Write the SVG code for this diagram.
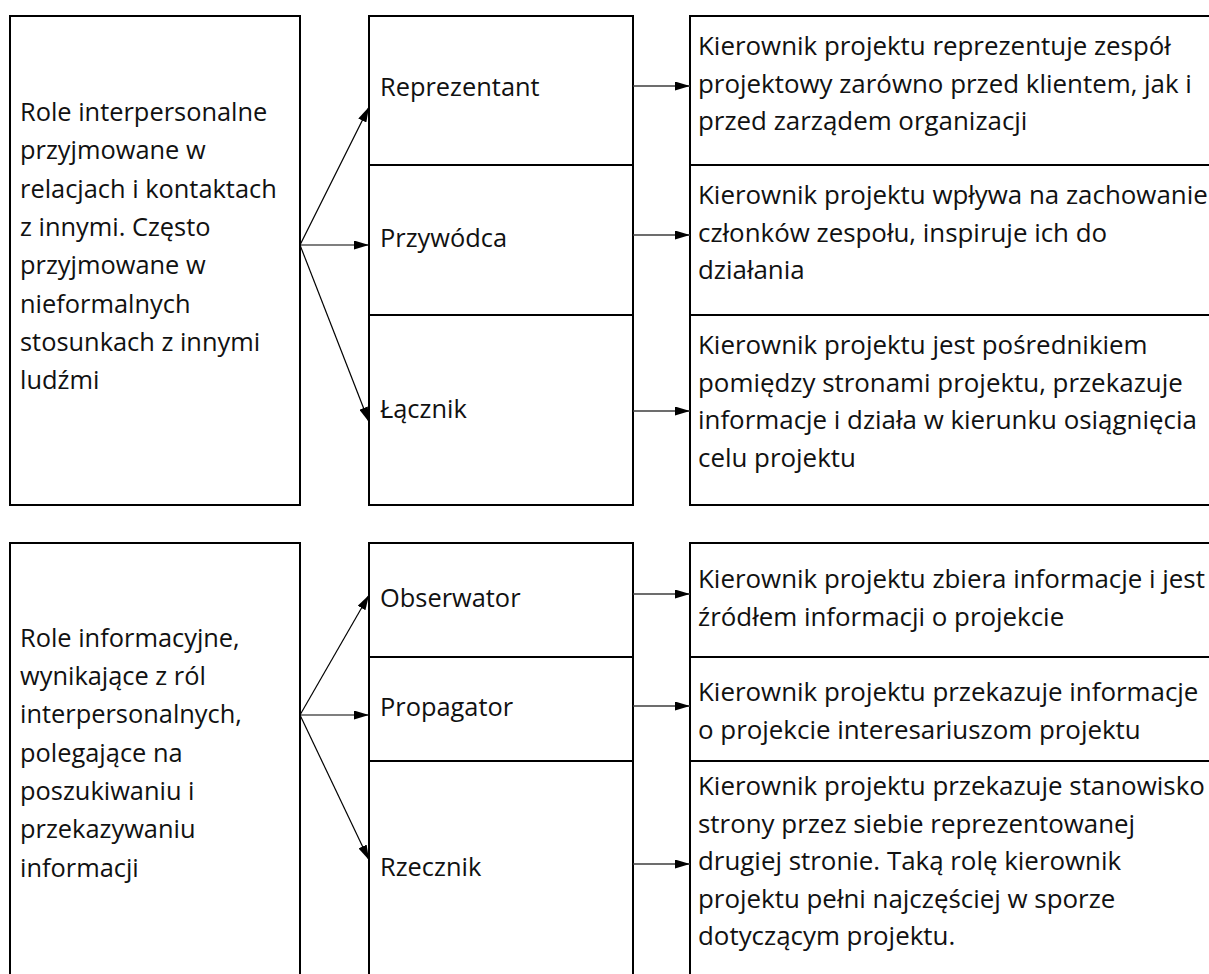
<svg xmlns="http://www.w3.org/2000/svg" width="1209" height="974" viewBox="0 0 1209 974">
  <style>
    .box { fill: #ffffff; stroke: #000000; stroke-width: 2; }
    .txt { font-family: "Open Sans", "Noto Sans", "Liberation Sans", sans-serif; font-size: 25.4px; fill: #111111; }
    .desc { font-size: 25.9px; }
    .fan { stroke: #000000; stroke-width: 1.2; fill: none; }
    .out { stroke: #3c3c3c; stroke-width: 1.5; fill: none; }
  </style>
  <defs>
    <marker id="head" markerUnits="userSpaceOnUse" markerWidth="15" markerHeight="9" refX="15" refY="4.5" orient="auto">
      <path d="M0,0 L15,4.5 L0,9 z" fill="#000000"/>
    </marker>
  </defs>

  <rect x="0" y="0" width="1209" height="974" fill="#ffffff"/>

  <!-- Interpersonal roles -->
  <g id="interpersonal">
    <rect class="box" x="10" y="16" width="290" height="489"/>
    <text class="txt" x="20">
      <tspan x="20" y="121">Role interpersonalne</tspan>
      <tspan x="20" y="159.3">przyjmowane w</tspan>
      <tspan x="20" y="197.6">relacjach i kontaktach</tspan>
      <tspan x="20" y="235.9">z innymi. Często</tspan>
      <tspan x="20" y="274.2">przyjmowane w</tspan>
      <tspan x="20" y="312.5">nieformalnych</tspan>
      <tspan x="20" y="350.8">stosunkach z innymi</tspan>
      <tspan x="20" y="389.1">ludźmi</tspan>
    </text>
  </g>

  <g id="reprezentant">
    <rect class="box" x="369" y="16" width="264" height="149"/>
    <text class="txt" x="380" y="96">Reprezentant</text>
  </g>
  <g id="przywodca">
    <rect class="box" x="369" y="165" width="264" height="150"/>
    <text class="txt" x="380" y="246.5">Przywódca</text>
  </g>
  <g id="lacznik">
    <rect class="box" x="369" y="315" width="264" height="190"/>
    <text class="txt" x="380" y="418">Łącznik</text>
  </g>

  <g id="reprezentant-desc">
    <rect class="box" x="690" y="16" width="530" height="149"/>
    <text class="txt desc">
      <tspan x="698" y="55">Kierownik projektu reprezentuje zespół</tspan>
      <tspan x="698" y="92.7">projektowy zarówno przed klientem, jak i</tspan>
      <tspan x="698" y="130.4">przed zarządem organizacji</tspan>
    </text>
  </g>
  <g id="przywodca-desc">
    <rect class="box" x="690" y="165" width="530" height="150"/>
    <text class="txt desc">
      <tspan x="698" y="204">Kierownik projektu wpływa na zachowanie</tspan>
      <tspan x="698" y="241.7">członków zespołu, inspiruje ich do</tspan>
      <tspan x="698" y="279.4">działania</tspan>
    </text>
  </g>
  <g id="lacznik-desc">
    <rect class="box" x="690" y="315" width="530" height="190"/>
    <text class="txt desc">
      <tspan x="698" y="354">Kierownik projektu jest pośrednikiem</tspan>
      <tspan x="698" y="391.7">pomiędzy stronami projektu, przekazuje</tspan>
      <tspan x="698" y="429.4">informacje i działa w kierunku osiągnięcia</tspan>
      <tspan x="698" y="467">celu projektu</tspan>
    </text>
  </g>

  <!-- Informational roles -->
  <g id="informational">
    <rect class="box" x="10" y="543" width="290" height="445"/>
    <text class="txt">
      <tspan x="20" y="646.7">Role informacyjne,</tspan>
      <tspan x="20" y="685">wynikające z ról</tspan>
      <tspan x="20" y="723.3">interpersonalnych,</tspan>
      <tspan x="20" y="761.6">polegające na</tspan>
      <tspan x="20" y="799.9">poszukiwaniu i</tspan>
      <tspan x="20" y="838.2">przekazywaniu</tspan>
      <tspan x="20" y="876.5">informacji</tspan>
    </text>
  </g>

  <g id="obserwator">
    <rect class="box" x="369" y="543" width="264" height="114"/>
    <text class="txt" x="380" y="606.5">Obserwator</text>
  </g>
  <g id="propagator">
    <rect class="box" x="369" y="657" width="264" height="104"/>
    <text class="txt" x="380" y="715.5">Propagator</text>
  </g>
  <g id="rzecznik">
    <rect class="box" x="369" y="761" width="264" height="227"/>
    <text class="txt" x="380" y="876">Rzecznik</text>
  </g>

  <g id="obserwator-desc">
    <rect class="box" x="690" y="543" width="530" height="114"/>
    <text class="txt desc">
      <tspan x="698" y="588">Kierownik projektu zbiera informacje i jest</tspan>
      <tspan x="698" y="626">źródłem informacji o projekcie</tspan>
    </text>
  </g>
  <g id="propagator-desc">
    <rect class="box" x="690" y="657" width="530" height="104"/>
    <text class="txt desc">
      <tspan x="698" y="701">Kierownik projektu przekazuje informacje</tspan>
      <tspan x="698" y="738.5">o projekcie interesariuszom projektu</tspan>
    </text>
  </g>
  <g id="rzecznik-desc">
    <rect class="box" x="690" y="761" width="530" height="227"/>
    <text class="txt desc">
      <tspan x="698" y="795">Kierownik projektu przekazuje stanowisko</tspan>
      <tspan x="698" y="832.5">strony przez siebie reprezentowanej</tspan>
      <tspan x="698" y="870">drugiej stronie. Taką rolę kierownik</tspan>
      <tspan x="698" y="907.5">projektu pełni najczęściej w sporze</tspan>
      <tspan x="698" y="945">dotyczącym projektu.</tspan>
    </text>
  </g>

  <!-- Connectors -->
  <g id="connectors">
    <line class="fan" x1="300" y1="245" x2="369" y2="107" marker-end="url(#head)"/>
    <line class="fan" x1="300" y1="245" x2="369" y2="245" marker-end="url(#head)"/>
    <line class="fan" x1="300" y1="245" x2="369" y2="422" marker-end="url(#head)"/>
    <line class="out" x1="633" y1="86" x2="690" y2="86" marker-end="url(#head)"/>
    <line class="out" x1="633" y1="235" x2="690" y2="235" marker-end="url(#head)"/>
    <line class="out" x1="633" y1="411" x2="690" y2="411" marker-end="url(#head)"/>

    <line class="fan" x1="300" y1="715" x2="369" y2="595" marker-end="url(#head)"/>
    <line class="fan" x1="300" y1="715" x2="369" y2="715" marker-end="url(#head)"/>
    <line class="fan" x1="300" y1="715" x2="369" y2="860" marker-end="url(#head)"/>
    <line class="out" x1="633" y1="594" x2="690" y2="594" marker-end="url(#head)"/>
    <line class="out" x1="633" y1="706" x2="690" y2="706" marker-end="url(#head)"/>
    <line class="out" x1="633" y1="864" x2="690" y2="864" marker-end="url(#head)"/>
  </g>
</svg>
